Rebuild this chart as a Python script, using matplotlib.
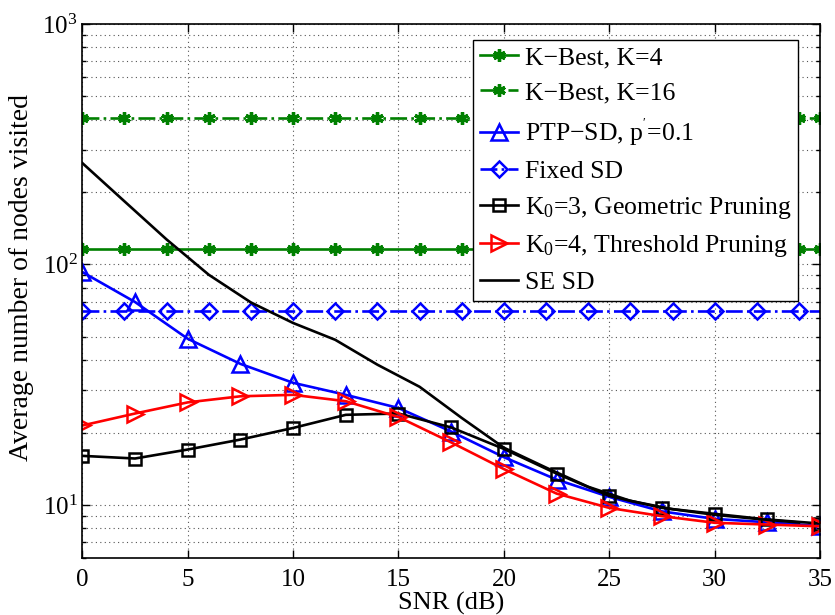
import matplotlib
matplotlib.use("Agg")
import matplotlib.pyplot as plt
from matplotlib.ticker import LogLocator, NullFormatter, MultipleLocator

plt.rcParams['font.family'] = ['Liberation Serif', 'DejaVu Serif']
plt.rcParams['mathtext.fontset'] = 'custom'
plt.rcParams['mathtext.rm'] = 'Liberation Serif'
plt.rcParams['mathtext.it'] = 'Liberation Serif:italic'

# ---- data ----
snr_kb = [0, 2, 4, 6, 8, 10, 12, 14, 16, 18, 20, 22, 24, 26, 28, 30, 32, 34, 35]
kbest_k4 = [116, 116, 116, 116, 116, 116, 116, 116, 116, 116, 116, 116, 116, 116, 116, 116, 116, 116, 116]
kbest_k16 = [407, 407, 407, 407, 407, 407, 407, 407, 407, 407, 407, 407, 407, 407, 407, 407, 407, 407, 407]
fixed_sd = [64.2, 64.2, 64.2, 64.2, 64.2, 64.2, 64.2, 64.2, 64.2, 64.2, 64.2, 64.2, 64.2, 64.2, 64.2, 64.2, 64.2, 64.2, 64.2]

snr_25 = [0, 2.5, 5, 7.5, 10, 12.5, 15, 17.5, 20, 22.5, 25, 27.5, 30, 32.5, 35]
ptp_sd = [93, 69.8, 49.1, 38.6, 32.2, 28.7, 25.3, 20.2, 15.8, 12.75, 10.8, 9.4, 8.75, 8.47, 8.17]
geo_k3 = [16.0, 15.6, 17.0, 18.7, 20.9, 23.7, 24.0, 21.0, 17.1, 13.5, 10.9, 9.72, 9.18, 8.7, 8.37]
thr_k4 = [21.4, 24.0, 26.7, 28.3, 28.7, 27.0, 23.2, 18.2, 14.1, 11.15, 9.72, 8.98, 8.43, 8.29, 8.15]

snr_se = [0, 2, 4, 6, 8, 10, 12, 14, 16, 18, 20, 22, 24, 26, 28, 30, 32, 34]
se_sd = [264, 183, 127, 90.6, 69.5, 57.1, 48.6, 38.3, 31.0, 23.0, 17.3, 14.3, 11.9, 10.4, 9.6, 9.1, 8.75, 8.45]

green = '#008000'

fig = plt.figure(figsize=(8.35, 6.15), dpi=100)
ax = fig.add_axes([0.0986, 0.0922, 0.8835, 0.8688])

lw = 1.9
ax.plot(snr_kb, kbest_k4, '-', color=green, lw=lw, marker=(6, 2, 0), ms=9, mew=2.4,
        label='K\u2212Best, K=4')
ax.plot(snr_kb, kbest_k16, '-.', color=green, lw=lw, marker=(6, 2, 0), ms=9, mew=2.4,
        label='K\u2212Best, K=16')
ax.plot(snr_25, ptp_sd, '-', color='b', lw=lw, marker='^', ms=11, mfc='none', mew=1.8,
        label="PTP\u2212SD, p$^{'}$=0.1")
ax.plot(snr_kb, fixed_sd, '-.', color='b', lw=lw, marker='D', ms=8.5, mfc='none', mew=1.8,
        markevery=slice(0, 18), label='Fixed SD')
ax.plot(snr_25, geo_k3, '-', color='k', lw=lw, marker='s', ms=8, mfc='none', mew=1.8,
        label='K$_0$=3, Geometric Pruning')
ax.plot(snr_25, thr_k4, '-', color='r', lw=lw, marker='>', ms=11, mfc='none', mew=1.8,
        label='K$_0$=4, Threshold Pruning')
ax.plot(snr_se, se_sd, '-', color='k', lw=lw, label='SE SD')

ax.set_yscale('log')
ax.set_xlim(0, 35)
ax.set_ylim(6, 1000)
ax.xaxis.set_major_locator(MultipleLocator(5))
ax.yaxis.set_major_locator(LogLocator(base=10, numticks=10))
ax.yaxis.set_minor_locator(LogLocator(base=10, subs=range(2, 10), numticks=20))
ax.yaxis.set_minor_formatter(NullFormatter())

ax.grid(True, which='major', axis='both', linestyle=(0, (1, 3)), color='#555555', lw=0.8)
ax.grid(True, which='minor', axis='y', linestyle=(0, (1, 3)), color='#555555', lw=0.8)

ax.tick_params(which='both', direction='in', top=True, right=True, labelsize=18)
ax.tick_params(which='major', length=6, width=1)
ax.tick_params(which='minor', length=3, width=1)
ax.tick_params(axis='x', which='major', pad=8)
for s in ax.spines.values():
    s.set_linewidth(1.2)
    s.set_color('k')

ax.set_xlabel('SNR (dB)', fontsize=19, labelpad=0)
ax.set_ylabel('Average number of nodes visited', fontsize=20)
ax.yaxis.set_label_coords(-0.066, 0.525)

leg = ax.legend(loc='upper right', bbox_to_anchor=(0.970, 0.970), fontsize=18.5,
                fancybox=False, framealpha=1, edgecolor='k', borderaxespad=0.0,
                handlelength=1.5, handletextpad=0.25, labelspacing=0.47, borderpad=0.25)
leg.get_frame().set_linewidth(1.0)

fig.savefig('out.png', dpi=100)
